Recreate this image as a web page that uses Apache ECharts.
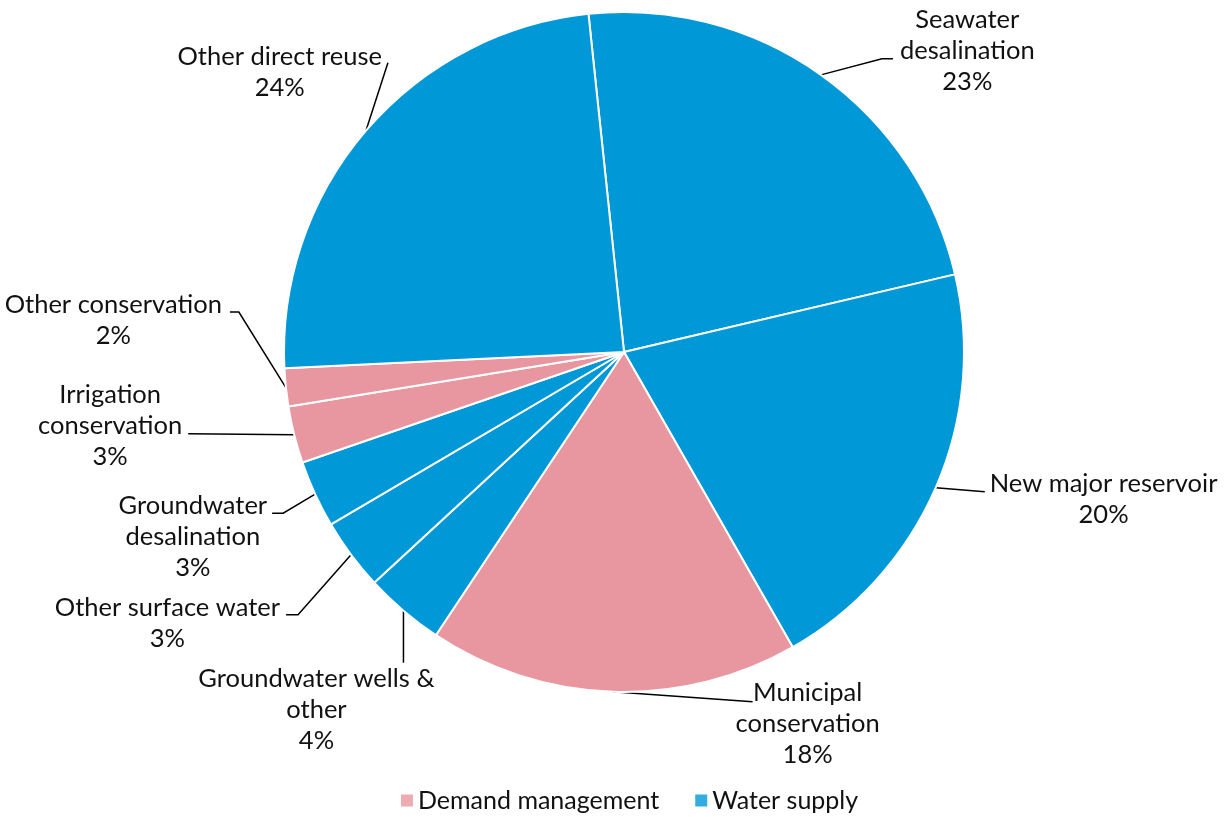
<!DOCTYPE html>
<html>
<head>
<meta charset="utf-8">
<script src="https://cdn.jsdelivr.net/npm/echarts@6/dist/echarts.min.js"></script>
<style>
html,body{margin:0;padding:0;background:#fff;}
#chart{width:1228px;height:817px;}
</style>
</head>
<body>
<div id="chart"></div>
<script>
// ---- Data ----
var categories = [
  'Seawater\ndesalination',
  'New major reservoir',
  'Municipal\nconservation',
  'Groundwater wells &\nother',
  'Other surface water',
  'Groundwater\ndesalination',
  'Irrigation\nconservation',
  'Other conservation',
  'Other direct reuse'
];
var values = [23.0, 20.4, 17.6, 3.8, 3.4, 3.2, 2.7, 1.8, 24.1];
var groups = ['Water supply', 'Water supply', 'Demand management', 'Water supply',
              'Water supply', 'Water supply', 'Demand management', 'Demand management', 'Water supply'];
var legendNames = ['Demand management', 'Water supply'];

// ---- Styles ----
var groupColors = { 'Demand management': '#e8969f', 'Water supply': '#0098d7' };
var FONT = 'Lato';
var FS = 25.5;
var LH = 31;

// label layout offsets relative to the slice's arc anchor point (style only)
// e: elbow, t: line end, l: label position, a: align
var labelPlacement = [
  { e: [61, -16], t: [72, -16], l: [79, -70.5], a: 'left' },
  { e: [49, 4], t: [49, 4], l: [54, -19.5], a: 'left' },
  { e: [140, 10], t: [140, 10], l: [195, -14.5], a: 'center' },
  { e: [0, 52], t: [0, 52], l: [-87, 53], a: 'center' },
  { e: [-53, 60], t: [-65, 60], l: [-71, 37.5], a: 'right' },
  { e: [-32, 19], t: [-43, 19], l: [-48, -4], a: 'right' },
  { e: [-106, -1], t: [-106, -1], l: [-112, -55.5], a: 'right' },
  { e: [-47, -75.5], t: [-56, -75.5], l: [-64, -98], a: 'right' },
  { e: [22, -68], t: [22, -68], l: [16, -89], a: 'right' }
];

var pieData = categories.map(function (c, i) {
  return { name: c, value: values[i], itemStyle: { color: groupColors[groups[i]] } };
});

var chart = echarts.init(document.getElementById('chart'), null, { renderer: 'canvas' });

var option = {
  backgroundColor: '#ffffff',
  animation: false,
  textStyle: { fontFamily: FONT },
  grid: { left: 0, top: 0, width: 1, height: 1, show: false },
  xAxis: { show: false, type: 'value' },
  yAxis: { show: false, type: 'value' },
  legend: {
    data: legendNames,
    left: 401,
    top: 788,
    padding: 0,
    icon: 'rect',
    itemWidth: 12,
    itemHeight: 12,
    itemGap: 36,
    textStyle: { fontFamily: FONT, fontSize: 25, color: '#111' }
  },
  series: [
    {
      type: 'pie',
      center: [624, 352],
      radius: 340,
      startAngle: 96,
      clockwise: true,
      percentPrecision: 0,
      avoidLabelOverlap: false,
      emphasis: { disabled: true },
      itemStyle: { borderColor: '#ffffff', borderWidth: 2 },
      data: pieData,
      label: {
        show: true,
        position: 'outside',
        color: '#111',
        fontFamily: FONT,
        fontSize: FS,
        lineHeight: LH,
        formatter: function (p) {
          var lines = p.name.split('\n');
          lines.push(p.percent + '%');
          return lines.map(function (s) { return '{t|' + s + '}'; }).join('\n');
        },
        rich: {
          t: { align: 'center', fontFamily: FONT, fontSize: FS, lineHeight: LH, color: '#111' }
        }
      },
      labelLine: {
        show: true,
        length: 10,
        length2: 10,
        lineStyle: { color: '#000', width: 1.5 }
      },
      labelLayout: function (params) {
        var P = labelPlacement[params.dataIndex];
        var a = params.labelLinePoints[0];
        return {
          x: a[0] + P.l[0],
          y: a[1] + P.l[1],
          align: P.a,
          verticalAlign: 'top',
          labelLinePoints: [
            [a[0], a[1]],
            [a[0] + P.e[0], a[1] + P.e[1]],
            [a[0] + P.t[0], a[1] + P.t[1]]
          ]
        };
      }
    },
    {
      type: 'scatter',
      name: legendNames[0],
      data: [],
      itemStyle: { color: groupColors[legendNames[0]] }
    },
    {
      type: 'scatter',
      name: legendNames[1],
      data: [],
      itemStyle: { color: groupColors[legendNames[1]] }
    }
  ]
};

chart.setOption(option);
</script>
</body>
</html>
